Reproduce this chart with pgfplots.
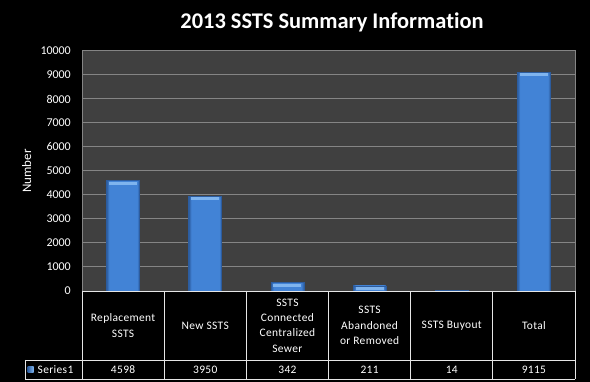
\documentclass[border=0pt]{standalone}
\usepackage{pgfplots}
\pgfplotsset{compat=1.18}
\usepackage{fontspec}
\setmainfont{Carlito}[Ligatures=NoCommon]
\newfontfamily\tabfont{Carlito}[Ligatures=NoCommon, LetterSpace=3]
\definecolor{plotbg}{HTML}{404040}
\definecolor{gridc}{HTML}{858585}
\definecolor{barmid}{HTML}{4283D6}
\definecolor{baredge}{HTML}{2C5C9E}
\definecolor{bartop}{HTML}{7FB4EE}
\definecolor{tableline}{HTML}{E6E6E6}
\pgfdeclarehorizontalshading{barsh}{100bp}{color(0bp)=(baredge); color(25bp)=(baredge); color(29bp)=(barmid); color(71bp)=(barmid); color(75bp)=(baredge); color(100bp)=(baredge)}
\pgfplotsset{barsty/.style={ybar, bar shift=0pt, bar width=33bp, draw=baredge, line width=0.6bp, shade, shading=barsh}}
\begin{document}
\begin{tikzpicture}
\fill[black] (0bp,0bp) rectangle (590bp,382bp);
\useasboundingbox (0bp,0bp) rectangle (590bp,382bp);
\node[text=white, anchor=base, font=\fontsize{22.5}{26}\selectfont\bfseries] at (332bp,353bp) {2013 SSTS Summary Information};
\begin{axis}[
  at={(82bp,91bp)}, anchor=south west,
  scale only axis, width=493bp, height=240bp,
  xmin=-0.5, xmax=5.5, ymin=0, ymax=10000,
  ytick={0,1000,...,10000},
  xtick={0,1,2,3,4,5},
  xticklabels={{Replacement\\SSTS},{New SSTS},{SSTS\\Connected\\Centralized\\Sewer},{SSTS\\Abandoned\\or Removed},{SSTS Buyout},{Total}},
  xticklabel style={text=white, align=center, anchor=center, yshift=-34.5bp, font=\tabfont\fontsize{11.5}{15.5}\selectfont},
  extra x ticks={0,1,2,3,4,5},
  extra x tick labels={4598,3950,342,211,14,9115},
  extra x tick style={xticklabel style={yshift=-44bp}},
  axis background/.style={fill=plotbg},
  ymajorgrids, grid style={gridc, line width=1bp},
  axis line style={gridc, line width=1bp},
  major tick length=0pt,
  scaled y ticks=false,
  /pgf/number format/assume math mode=true,
  yticklabel style={text=white, anchor=east, inner sep=0pt, xshift=-11bp, font=\fontsize{12}{14}\selectfont, /pgf/number format/1000 sep={}},
  ylabel={Number},
  ylabel style={text=white, font=\fontsize{13}{15}\selectfont, at={(axis description cs:-0.112,0.5)}, anchor=center},
  clip marker paths=true,
]
\addplot[barsty] coordinates {(0,4598)};
\addplot[barsty] coordinates {(1,3950)};
\addplot[barsty] coordinates {(2,342)};
\addplot[barsty] coordinates {(3,211)};
\addplot[barsty] coordinates {(4,14)};
\addplot[barsty] coordinates {(5,9115)};
\addplot[only marks, mark=-, mark size=14bp, mark options={draw=bartop, line width=3bp, yshift=-2.5bp}] coordinates {(0,4598) (1,3950) (2,342) (3,211) (5,9115)};
\end{axis}
\begin{scope}[x=1bp, y=1bp, draw=tableline, line width=0.8bp]
\draw (82,91) -- (575,91);
\draw (25,22) -- (575,22);
\draw (25,3) -- (575,3);
\draw (25,22) -- (25,3);
\foreach \i in {0,...,6} {\draw ({82+82.1667*\i},91) -- ({82+82.1667*\i},3);}
\shade[left color=baredge, right color=bartop] (27.5,9.5) rectangle (33.5,15.5);
\node[text=white, anchor=west, font=\tabfont\fontsize{11.5}{13}\selectfont] at (34,12.5) {Series1};
\end{scope}
\end{tikzpicture}
\end{document}
